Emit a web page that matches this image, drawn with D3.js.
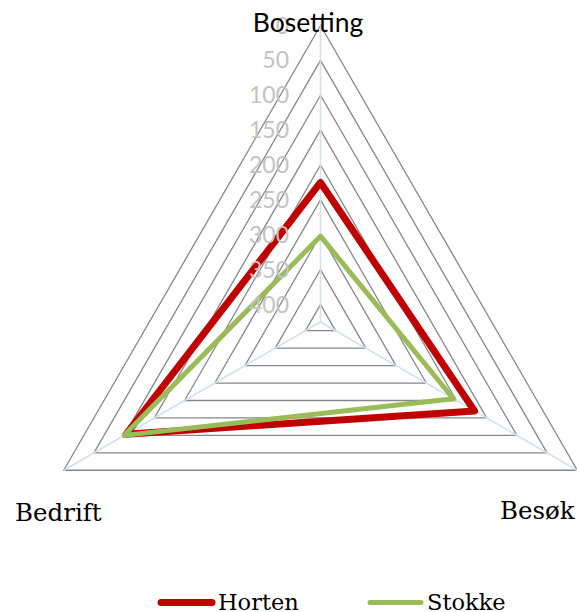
<!DOCTYPE html>
<html>
<head>
<meta charset="utf-8">
<script src="https://cdn.jsdelivr.net/npm/d3@7"></script>
<style>
  html, body { margin: 0; padding: 0; background: #fff; }
  svg { display: block; }
</style>
</head>
<body>
<svg id="chart" width="577" height="612"></svg>
<script>
const categories = ["Bosetting", "Besøk", "Bedrift"];
const horten = [225, 170, 103];
const stokke = [302, 205, 100];
const tickValues = [0, 50, 100, 150, 200, 250, 300, 350, 400];
const seriesNames = ["Horten", "Stokke"];
const seriesColors = ["#c00000", "#9bbb59"];

const svg = d3.select("#chart");
const cx = 320.5, cy = 322, R = 296.5;

// reversed radial axis: 0 at the outer edge, max at the centre
const r = d3.scaleLinear().domain([0, 425]).range([R, 0]);
const angle = d3.scalePoint().domain(categories).range([0, 2 * Math.PI * 2 / 3]);
const pt = (cat, v) => {
  const a = angle(cat) - Math.PI / 2;
  return [cx + r(v) * Math.cos(a), cy + r(v) * Math.sin(a)];
};

const g = svg.append("g");
const line = d3.line();

// gridlines
tickValues.forEach(t => {
  const pts = categories.map(c => pt(c, t));
  g.append("path")
    .attr("d", line(pts) + "Z")
    .attr("fill", "none")
    .attr("stroke", "#878787")
    .attr("stroke-width", 1.3);
});

// spokes
categories.forEach(c => {
  const p = pt(c, 0);
  g.append("line")
    .attr("x1", cx).attr("y1", cy)
    .attr("x2", p[0]).attr("y2", p[1])
    .attr("stroke", "#d5e0ee")
    .attr("stroke-width", 1.6);
});

// series
const series = [horten, stokke];
const widths = [7, 5];
series.forEach((vals, i) => {
  const pts = categories.map((c, j) => pt(c, vals[j]));
  g.append("path")
    .attr("d", line(pts) + "Z")
    .attr("fill", "none")
    .attr("stroke", seriesColors[i])
    .attr("stroke-width", widths[i])
    .attr("stroke-linejoin", "round");
});

// tick labels
g.selectAll("text.tick")
  .data(tickValues)
  .enter().append("text")
  .attr("class", "tick")
  .attr("x", 289)
  .attr("y", d => cy - r(d) - 1)
  .attr("text-anchor", "end")
  .attr("dominant-baseline", "central")
  .attr("font-family", "Lato, 'Open Sans', sans-serif")
  .attr("font-size", 23)
  .attr("fill", "#c3c3c3")
  .text(d => d);

// category labels
g.append("text")
  .attr("x", 308).attr("y", 32)
  .attr("text-anchor", "middle")
  .attr("font-family", "Lato, 'Open Sans', sans-serif")
  .attr("font-size", 26.5)
  .attr("fill", "#000")
  .text(categories[0]);

g.append("text")
  .attr("x", 500).attr("y", 519)
  .attr("font-family", "'DejaVu Serif', serif")
  .attr("font-size", 24.5)
  .attr("fill", "#000")
  .text(categories[1]);

g.append("text")
  .attr("x", 15).attr("y", 521)
  .attr("font-family", "'DejaVu Serif', serif")
  .attr("font-size", 24.5)
  .attr("fill", "#000")
  .text(categories[2]);

// legend
const legendX = [158, 367];
seriesNames.forEach((name, i) => {
  const lg = svg.append("g");
  lg.append("line")
    .attr("x1", legendX[i] + 3).attr("x2", legendX[i] + 54)
    .attr("y1", 602.5).attr("y2", 602.5)
    .attr("stroke", seriesColors[i])
    .attr("stroke-width", widths[i])
    .attr("stroke-linecap", "round");
  lg.append("text")
    .attr("x", legendX[i] + 60).attr("y", 609.5)
    .attr("font-family", "'DejaVu Serif', serif")
    .attr("font-size", 22.5)
    .attr("fill", "#000")
    .text(name);
});
</script>
</body>
</html>
